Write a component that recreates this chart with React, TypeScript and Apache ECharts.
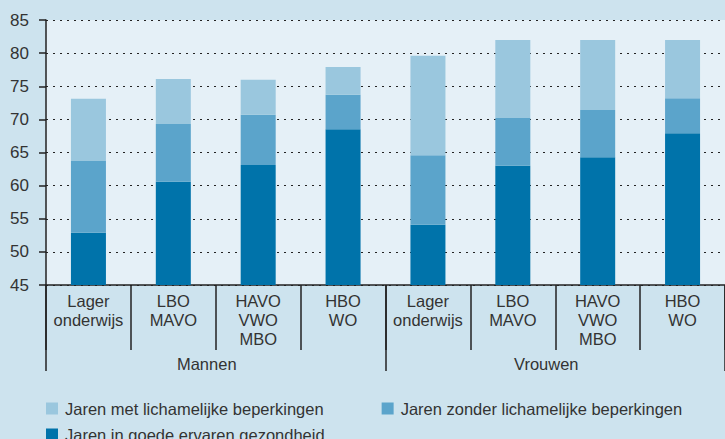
import React, { useEffect, useRef } from 'react';
import * as echarts from 'echarts';

const categories = [
  'Lager\nonderwijs', 'LBO\nMAVO', 'HAVO\nVWO\nMBO', 'HBO\nWO',
  'Lager\nonderwijs', 'LBO\nMAVO', 'HAVO\nVWO\nMBO', 'HBO\nWO',
];
const groups = ['Mannen', 'Vrouwen'];
// cumulative heights
const goedeGezondheid = [52.9, 60.6, 63.1, 68.5, 54.1, 63.0, 64.3, 67.9];
const zonderBeperkingenTotaal = [63.7, 69.3, 70.7, 73.7, 64.6, 70.2, 71.4, 73.2];
const metBeperkingenTotaal = [73.1, 76.1, 76.0, 77.9, 79.6, 82.0, 82.0, 82.0];

const nameMet = 'Jaren met lichamelijke beperkingen';
const nameZonder = 'Jaren zonder lichamelijke beperkingen';
const nameGoede = 'Jaren in goede ervaren gezondheid';

const yMin = 45;
const yMax = 85;
const yInterval = 5;

const FONT = 'Liberation Sans';

export default function App() {
  const ref = useRef<HTMLDivElement>(null);
  useEffect(() => {
    if (!ref.current) return;
    const chart = echarts.init(ref.current, undefined, { renderer: 'svg' });
    const zonderSeg = zonderBeperkingenTotaal.map((v, i) => +(v - goedeGezondheid[i]).toFixed(2));
    const metSeg = metBeperkingenTotaal.map((v, i) => +(v - zonderBeperkingenTotaal[i]).toFixed(2));
    const textColor = '#333333';
    const lineColor = '#222222';
    const legendText = { fontFamily: FONT, fontSize: 16.5, color: textColor, padding: [0, 0, 0, 2] };
    chart.setOption({
      animation: false,
      backgroundColor: '#cde3ee',
      textStyle: { fontFamily: FONT },
      grid: {
        left: 46, top: 20, width: 681, height: 265,
        show: true, backgroundColor: '#e5f0f7', borderWidth: 0,
      },
      legend: [
        {
          left: 46, top: 400, padding: 0, itemWidth: 12, itemHeight: 12, itemGap: 58,
          icon: 'rect', data: [nameMet, nameZonder], textStyle: legendText,
        },
        {
          left: 46, top: 426, padding: 0, itemWidth: 12, itemHeight: 12,
          icon: 'rect', data: [nameGoede], textStyle: legendText,
        },
      ],
      xAxis: [
        {
          type: 'category', data: categories, position: 'bottom', gridIndex: 0,
          axisLine: { show: true, lineStyle: { color: lineColor, width: 1.5 } },
          axisTick: { show: true, length: 65, interval: 0, alignWithLabel: false, lineStyle: { color: lineColor, width: 1.5 } },
          axisLabel: { interval: 0, fontFamily: FONT, fontSize: 16.5, lineHeight: 19, color: textColor, margin: 6 },
        },
        {
          type: 'category', data: groups, position: 'bottom', gridIndex: 0, offset: 0,
          axisLine: { show: false },
          axisTick: { show: true, length: 86, interval: 0, lineStyle: { color: lineColor, width: 1.5 } },
          axisLabel: { interval: 0, fontFamily: FONT, fontSize: 16.5, color: textColor, margin: 70, padding: [0, 18, 0, 0] },
        },
      ],
      yAxis: {
        type: 'value', min: yMin, max: yMax, interval: yInterval,
        axisLine: { show: true, lineStyle: { color: lineColor, width: 1.5 } },
        axisTick: { show: true, length: 7, lineStyle: { color: lineColor, width: 1.5 } },
        axisLabel: { fontFamily: FONT, fontSize: 17, color: textColor, margin: 17 },
        splitLine: { show: true, lineStyle: { type: [2, 5], color: lineColor, width: 1 } },
      },
      series: [
        { name: nameGoede, type: 'bar', stack: 'a', xAxisIndex: 0, barWidth: 35, data: goedeGezondheid, itemStyle: { color: '#0073aa' } },
        { name: nameZonder, type: 'bar', stack: 'a', xAxisIndex: 0, barWidth: 35, data: zonderSeg, itemStyle: { color: '#5ba4cb' } },
        { name: nameMet, type: 'bar', stack: 'a', xAxisIndex: 0, barWidth: 35, data: metSeg, itemStyle: { color: '#9ac7de' } },
      ],
    });
    return () => chart.dispose();
  }, []);
  return <div ref={ref} style={{ position: 'fixed', left: 0, top: 0, width: 725, height: 439 }} />;
}
